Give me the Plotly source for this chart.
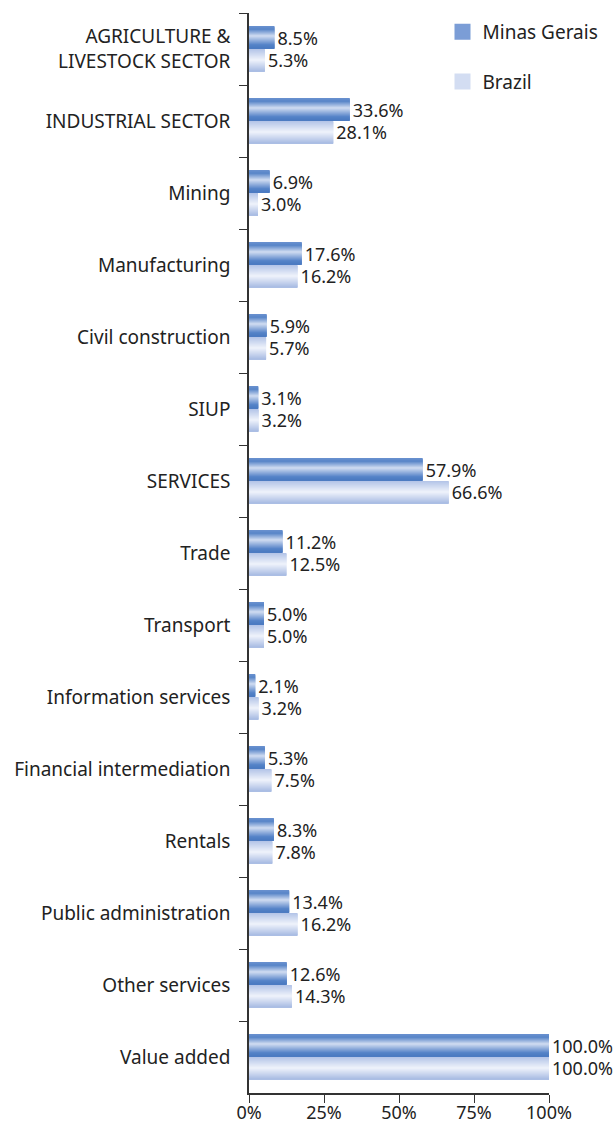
import plotly.graph_objects as go

categories = ["AGRICULTURE &<br>LIVESTOCK SECTOR", "INDUSTRIAL SECTOR", "Mining", "Manufacturing",
              "Civil construction", "SIUP", "SERVICES", "Trade", "Transport",
              "Information services", "Financial intermediation", "Rentals",
              "Public administration", "Other services", "Value added"]
minas_gerais = [8.5, 33.6, 6.9, 17.6, 5.9, 3.1, 57.9, 11.2, 5.0, 2.1, 5.3, 8.3, 13.4, 12.6, 100.0]
brazil = [5.3, 28.1, 3.0, 16.2, 5.7, 3.2, 66.6, 12.5, 5.0, 3.2, 7.5, 7.8, 16.2, 14.3, 100.0]
x_tick_values = [0, 25, 50, 75, 100]
x_tick_labels = ["0%", "25%", "50%", "75%", "100%"]

FONT = "Noto Sans"
FS = 19
LBL = 18
TXT = "#222222"

# gradient stops (t from top edge 0 to bottom edge 1)
mg_stops = [(0.0, (0x6a, 0x91, 0xcf)), (0.15, (0x58, 0x85, 0xc8)), (0.45, (0xd0, 0xdc, 0xf1)),
            (0.85, (0x55, 0x83, 0xc8)), (1.0, (0x4a, 0x79, 0xc1))]
br_stops = [(0.0, (0xb2, 0xc3, 0xe7)), (0.5, (0xef, 0xf3, 0xfb)), (1.0, (0xa8, 0xbb, 0xe3))]


def grad(stops, t):
    for (t0, c0), (t1, c1) in zip(stops[:-1], stops[1:]):
        if t0 <= t <= t1:
            f = (t - t0) / (t1 - t0) if t1 > t0 else 0
            c = [round(a + (b - a) * f) for a, b in zip(c0, c1)]
            return "rgb(%d,%d,%d)" % tuple(c)
    return "rgb(%d,%d,%d)" % stops[-1][1]


BW = 0.3125
N = 22
sw = BW / N

fig = go.Figure()


def add_series(name, values, stops, base_offset, group, legend_color):
    for k in range(N):
        t = (k + 0.5) / N
        w = sw * 1.6 if k < N - 1 else sw
        fig.add_trace(go.Bar(
            x=values, y=categories, orientation="h",
            offset=base_offset + k * sw, width=w,
            marker=dict(color=grad(stops, t), line=dict(width=0)),
            showlegend=False, hoverinfo="skip", legendgroup=group,
        ))
    # text labels
    fig.add_trace(go.Bar(
        x=values, y=categories, orientation="h",
        offset=base_offset, width=BW,
        marker=dict(color="rgba(0,0,0,0)", line=dict(width=0)),
        text=["%.1f%%" % v for v in values], textposition="outside",
        constraintext="none", cliponaxis=False,
        textfont=dict(family=FONT, size=LBL, color=TXT),
        showlegend=False, hoverinfo="skip", legendgroup=group,
    ))
    # legend entry
    fig.add_trace(go.Scatter(
        x=[None], y=[None], mode="markers", name=name,
        marker=dict(symbol="square", size=20, color=legend_color,
                    line=dict(width=0)),
        legendgroup=group, showlegend=True, hoverinfo="skip",
    ))


add_series("Minas Gerais", minas_gerais, mg_stops, -BW, "mg", "#7b9dd6")
add_series("Brazil", brazil, br_stops, 0.0, "br", "#d3ddf2")

fig.update_layout(
    width=616, height=1124,
    margin=dict(l=249, r=67, t=13, b=31),
    barmode="overlay",
    paper_bgcolor="white", plot_bgcolor="white",
    font=dict(family=FONT, size=FS, color=TXT),
    legend=dict(x=0.645, y=1.0, xanchor="left", yanchor="top",
                traceorder="grouped", tracegroupgap=22, itemsizing="trace",
                font=dict(family=FONT, size=FS, color=TXT),
                bgcolor="rgba(0,0,0,0)"),
    xaxis=dict(range=[0, 100], tickvals=x_tick_values, ticktext=x_tick_labels,
               ticks="outside", ticklen=8, tickcolor="#333", showline=True,
               linecolor="#333", linewidth=1.5, showgrid=False, zeroline=False,
               automargin=False, ticklabelstandoff=-5,
               tickfont=dict(family=FONT, size=18, color=TXT)),
    yaxis=dict(type="category", categoryorder="array", categoryarray=categories,
               autorange="reversed", tickson="boundaries", ticks="outside", ticklen=8,
               tickcolor="#333", showline=True, linecolor="#333", linewidth=1.5,
               showgrid=False, zeroline=False, ticklabelstandoff=13, automargin=False,
               tickfont=dict(family=FONT, size=FS, color=TXT)),
)

fig.write_html("out.html", config={"displayModeBar": False},
               post_script="document.body.style.margin='0';")
